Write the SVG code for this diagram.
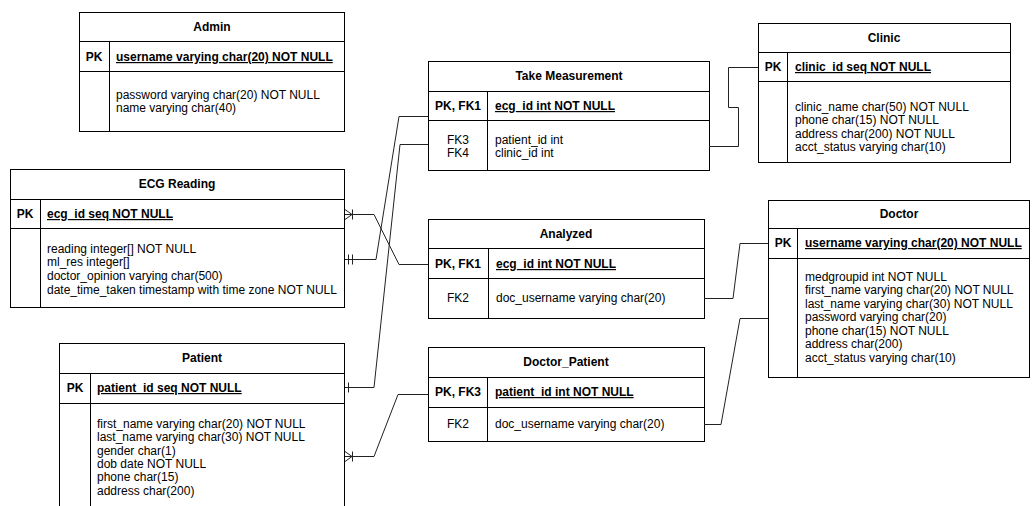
<svg xmlns="http://www.w3.org/2000/svg" width="1032" height="506" viewBox="0 0 1032 506">
<style>
.box{fill:#fff;stroke:#000;stroke-width:1}
.ln{stroke:#000;stroke-width:1;fill:none}
.t{font-family:"Liberation Sans",Arial,sans-serif;font-size:12px;fill:#000}
.b{font-weight:bold}
.c{text-anchor:middle}
.u{text-decoration:underline}
.cn{stroke:#222;stroke-width:1;fill:none}
</style>
<rect width="1032" height="506" fill="#fff"/>

<g id="admin">
<rect class="box" x="79.5" y="12.5" width="265" height="119"/>
<path class="ln" d="M79.5,41.5H344.5M79.5,71.5H344.5M109.5,41.5V131.5"/>
<text class="t b c" x="212" y="31">Admin</text>
<text class="t b c" x="94" y="61">PK</text>
<text class="t b u" x="116" y="61">username varying char(20) NOT NULL</text>
<text class="t" x="116" y="99">password varying char(20) NOT NULL</text>
<text class="t" x="116" y="112">name varying char(40)</text>
</g>

<g id="ecg_reading">
<rect class="box" x="10.5" y="169.5" width="334" height="138"/>
<path class="ln" d="M10.5,199.5H344.5M10.5,228.5H344.5M40.5,199.5V307.5"/>
<text class="t b c" x="177" y="188">ECG Reading</text>
<text class="t b c" x="25" y="218">PK</text>
<text class="t b u" x="47" y="218">ecg_id seq NOT NULL</text>
<text class="t" x="47" y="253">reading integer[] NOT NULL</text>
<text class="t" x="47" y="266">ml_res integer[]</text>
<text class="t" x="47" y="280">doctor_opinion varying char(500)</text>
<text class="t" x="47" y="294">date_time_taken timestamp with time zone NOT NULL</text>
</g>

<g id="patient">
<rect class="box" x="59.5" y="343.5" width="285" height="180"/>
<path class="ln" d="M59.5,373.5H344.5M59.5,403.5H344.5M90.5,373.5V523"/>
<text class="t b c" x="202" y="362">Patient</text>
<text class="t b c" x="75" y="392">PK</text>
<text class="t b u" x="97" y="392">patient_id seq NOT NULL</text>
<text class="t" x="97" y="428">first_name varying char(20) NOT NULL</text>
<text class="t" x="97" y="441">last_name varying char(30) NOT NULL</text>
<text class="t" x="97" y="455">gender char(1)</text>
<text class="t" x="97" y="468">dob date NOT NULL</text>
<text class="t" x="97" y="481">phone char(15)</text>
<text class="t" x="97" y="495">address char(200)</text>
</g>

<g id="take_measurement">
<rect class="box" x="428.5" y="61.5" width="281" height="109"/>
<path class="ln" d="M428.5,91.5H709.5M428.5,120.5H709.5M487.5,91.5V170.5"/>
<text class="t b c" x="569" y="80">Take Measurement</text>
<text class="t b c" x="458" y="110">PK, FK1</text>
<text class="t b u" x="495" y="110">ecg_id int NOT NULL</text>
<text class="t c" x="458" y="144">FK3</text>
<text class="t c" x="458" y="157">FK4</text>
<text class="t" x="495" y="144">patient_id int</text>
<text class="t" x="495" y="157">clinic_id int</text>
</g>

<g id="clinic">
<rect class="box" x="758.5" y="23.5" width="252" height="139"/>
<path class="ln" d="M758.5,52.5H1010.5M758.5,81.5H1010.5M787.5,52.5V162.5"/>
<text class="t b c" x="884" y="42">Clinic</text>
<text class="t b c" x="773" y="71">PK</text>
<text class="t b u" x="795" y="71">clinic_id seq NOT NULL</text>
<text class="t" x="795" y="111">clinic_name char(50) NOT NULL</text>
<text class="t" x="795" y="124">phone char(15) NOT NULL</text>
<text class="t" x="795" y="138">address char(200) NOT NULL</text>
<text class="t" x="795" y="151">acct_status varying char(10)</text>
</g>

<g id="analyzed">
<rect class="box" x="428.5" y="219.5" width="276" height="99"/>
<path class="ln" d="M428.5,248.5H704.5M428.5,278.5H704.5M488.5,248.5V318.5"/>
<text class="t b c" x="566" y="238">Analyzed</text>
<text class="t b c" x="458" y="268">PK, FK1</text>
<text class="t b u" x="496" y="268">ecg_id int NOT NULL</text>
<text class="t c" x="458" y="302">FK2</text>
<text class="t" x="496" y="302">doc_username varying char(20)</text>
</g>

<g id="doctor">
<rect class="box" x="768.5" y="200.5" width="261" height="177"/>
<path class="ln" d="M768.5,228.5H1029.5M768.5,258.5H1029.5M797.5,228.5V377.5"/>
<text class="t b c" x="899" y="218">Doctor</text>
<text class="t b c" x="783" y="247">PK</text>
<text class="t b u" x="805" y="247">username varying char(20) NOT NULL</text>
<text class="t" x="805" y="281">medgroupid int NOT NULL</text>
<text class="t" x="805" y="294">first_name varying char(20) NOT NULL</text>
<text class="t" x="805" y="308">last_name varying char(30) NOT NULL</text>
<text class="t" x="805" y="321">password varying char(20)</text>
<text class="t" x="805" y="335">phone char(15) NOT NULL</text>
<text class="t" x="805" y="348">address char(200)</text>
<text class="t" x="805" y="362">acct_status varying char(10)</text>
</g>

<g id="doctor_patient">
<rect class="box" x="428.5" y="347.5" width="276" height="94"/>
<path class="ln" d="M428.5,377.5H704.5M428.5,407.5H704.5M487.5,377.5V441.5"/>
<text class="t b c" x="566" y="366">Doctor_Patient</text>
<text class="t b c" x="458" y="396">PK, FK3</text>
<text class="t b u" x="495" y="396">patient_id int NOT NULL</text>
<text class="t c" x="458" y="428">FK2</text>
<text class="t" x="495" y="428">doc_username varying char(20)</text>
</g>

<g id="connectors">
<path class="cn" d="M345,214.5H374L399,264.5H428"/>
<path class="cn" d="M345,209.5L352,214.5L345,219.5M352.5,209.5V219.5"/>
<path class="cn" d="M345,259.5H376L399,116.5H428"/>
<path class="cn" d="M348.5,254.5V264.5M352.5,254.5V264.5"/>
<path class="cn" d="M345,387.5H374L400,144.5H428"/>
<path class="cn" d="M348.5,382.5V392.5"/>
<path class="cn" d="M345,456.5H374L398,394.5H428"/>
<path class="cn" d="M345,451.5L352,456.5L345,461.5M352.5,451.5V461.5"/>
<path class="cn" d="M709,146.5H738.5V107.5H728.5V67.5H758"/>
<path class="cn" d="M704,298.5H733L740,243.5H768"/>
<path class="cn" d="M768,318.5H740L721,424.5H704"/>
</g>
</svg>
